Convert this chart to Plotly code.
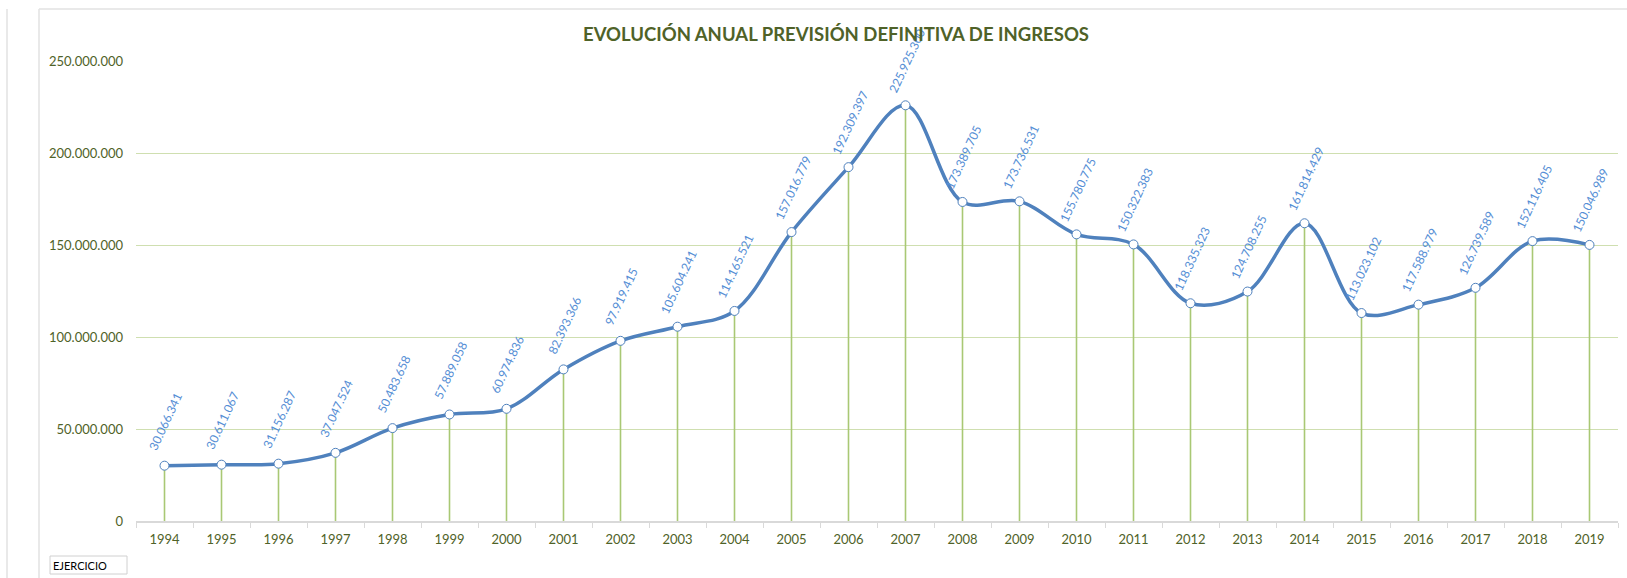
import plotly.graph_objects as go

# ---- data ----
years = [str(y) for y in range(1994, 2020)]
values = [
    30066341, 30611067, 31156287, 37047524, 50483658, 57889058, 60974836,
    82393366, 97919415, 105604241, 114165521, 157016779, 192309397, 225925300,
    173389705, 173736531, 155780775, 150322383, 118335323, 124708255,
    161814429, 113023102, 117588979, 126739589, 152116405, 150046989,
]
y_ticks = [0, 50000000, 100000000, 150000000, 200000000, 250000000]
title_text = "EVOLUCIÓN ANUAL PREVISIÓN DEFINITIVA DE INGRESOS"
x_caption = "EJERCICIO"

W, H = 1627, 578
L, R, T, B = 136, 9, 61, 57
PW, PH = W - L - R, H - T - B


def px_x(p):
    return (p - L) / PW


def px_y(p):
    return (H - B - p) / PH


OLIVE = "#4F6228"
BLUE = "#4F81BD"
LABEL_BLUE = "#558ED5"
STEM = "#A9C874"
GRID = "#CFDFB0"
FONT = "Lato"

fig = go.Figure()

# stems (drop lines) from 0 to each value
fig.add_trace(go.Scatter(
    x=years, y=values, mode="markers",
    marker=dict(size=1, opacity=0),
    error_y=dict(type="data", symmetric=False, array=[0] * len(values),
                 arrayminus=values, width=0, color=STEM, thickness=1.6),
    hoverinfo="skip", showlegend=False,
))

# smoothed line with markers
fig.add_trace(go.Scatter(
    x=years, y=values, mode="lines+markers",
    line=dict(color=BLUE, width=3.5, shape="spline", smoothing=1.0),
    marker=dict(size=9, color="white", line=dict(color=BLUE, width=1)),
    showlegend=False,
))

annotations = []
for i, v in enumerate(values):
    annotations.append(dict(
        x=i, y=v, xref="x", yref="y",
        text=f"{v:,}".replace(",", "."),
        showarrow=False, textangle=-65, yshift=44, xshift=1,
        xanchor="center", yanchor="middle",
        font=dict(family=FONT, size=12, color=LABEL_BLUE),
    ))

annotations.append(dict(
    x=px_x(836), y=px_y(33.5), xref="paper", yref="paper",
    text=f"<b>{title_text}</b>", showarrow=False,
    xanchor="center", yanchor="middle",
    font=dict(family=FONT, size=18.5, color=OLIVE),
))

annotations.append(dict(
    x=px_x(51), y=px_y(565), xref="paper", yref="paper",
    text=x_caption, showarrow=False, xanchor="left", yanchor="middle",
    font=dict(family=FONT, size=11, color="#000000"),
))

shapes = [
    dict(type="line", xref="paper", yref="paper",
         x0=px_x(7), x1=px_x(7), y0=px_y(9), y1=px_y(H),
         line=dict(color="#E2E2E2", width=1.5), layer="below"),
    dict(type="line", xref="paper", yref="paper",
         x0=px_x(39), x1=px_x(39), y0=px_y(9), y1=px_y(H),
         line=dict(color="#E2E2E2", width=1.5), layer="below"),
    dict(type="line", xref="paper", yref="paper",
         x0=px_x(39), x1=px_x(W), y0=px_y(9), y1=px_y(9),
         line=dict(color="#E2E2E2", width=1.5), layer="below"),
    dict(type="rect", xref="paper", yref="paper",
         x0=px_x(50), x1=px_x(127), y0=px_y(556), y1=px_y(574),
         line=dict(color="#D0D0D0", width=1), fillcolor="white", layer="below"),
]

fig.update_layout(
    width=W, height=H,
    margin=dict(l=L, r=R, t=T, b=B, pad=0),
    paper_bgcolor="white", plot_bgcolor="white",
    separators=",.",
    annotations=annotations,
    shapes=shapes,
    font=dict(family=FONT),
)

fig.update_xaxes(
    type="category", categoryorder="array", categoryarray=years,
    range=[-0.5, len(years) - 0.5], autorange=False,
    showline=True, linecolor="#D9D9D9", linewidth=1.5,
    ticks="outside", tickson="boundaries", ticklen=5, tickcolor="#D9D9D9",
    tickwidth=1.2, showgrid=False, zeroline=False,
    ticklabelstandoff=6,
    tickfont=dict(family=FONT, size=13, color=OLIVE),
)

fig.update_yaxes(
    range=[0, 250000000], tickvals=y_ticks, tickformat=",d",
    showgrid=True, gridcolor=GRID, gridwidth=1.2,
    zeroline=False, showline=False, ticks="",
    ticklabelstandoff=12,
    tickfont=dict(family=FONT, size=13, color=OLIVE),
)

fig.write_html(
    "out.html",
    config={"displayModeBar": False},
    post_script="document.body.style.margin='0px';document.body.style.overflow='hidden';",
)
